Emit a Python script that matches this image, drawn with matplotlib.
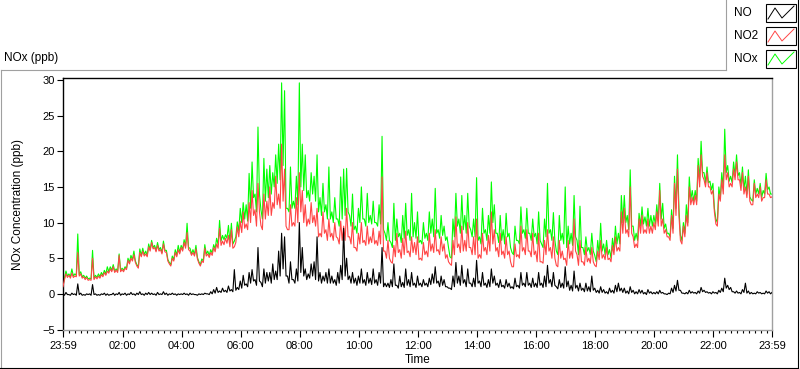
import matplotlib
matplotlib.use("Agg")
import matplotlib.pyplot as plt
import matplotlib.dates as mdates
from matplotlib.lines import Line2D
from matplotlib.patches import Rectangle
import numpy as np
import pandas as pd

# Values, 23:59 -> 23:59.
# *_HI: local peaks every 6 min (t = 0, 6, 12 ...);  *_LO: the dips between them (t = 3, 9, ...)
NO2_HI = [1.0, 2.8, 2.6, 2.9, 2.5, 5.8, 2.8, 2.4, 2.3, 2.0,
          5.0, 2.4, 2.5, 2.7, 3.0, 3.2, 3.5, 3.8, 3.3, 5.4,
          3.4, 3.6, 4.7, 5.0, 5.5, 3.9, 5.8, 6.0, 5.6, 6.6,
          7.2, 6.5, 6.8, 6.2, 7.0, 5.8, 4.2, 5.0, 5.8, 6.2,
          6.5, 7.2, 8.6, 6.0, 5.8, 6.3, 4.3, 4.6, 6.4, 5.6,
          5.8, 6.5, 7.0, 9.2, 7.4, 7.8, 8.2, 9.0, 6.6, 9.4,
          10.2, 11.5, 9.8, 12.8, 14.5, 11.8, 15.5, 9.6, 14.0, 13.0,
          15.0, 12.8, 16.5, 14.0, 21.0, 17.5, 9.0, 12.5, 10.0, 13.5,
          17.0, 14.5, 12.5, 10.5, 12.8, 11.0, 12.0, 8.5, 11.5, 9.0,
          10.5, 8.5, 10.0, 7.8, 10.2, 9.5, 12.0, 8.0, 10.0, 6.5,
          8.5, 10.0, 7.5, 9.5, 8.0, 9.2, 7.5, 8.8, 16.4, 6.0,
          7.5, 4.5, 6.8, 8.5, 6.2, 7.8, 8.8, 6.0, 8.0, 7.2,
          8.0, 5.0, 7.2, 6.0, 8.5, 7.0, 9.0, 6.2, 8.0, 7.0,
          5.5, 4.2, 7.5, 10.8, 7.0, 9.5, 7.5, 10.0, 6.5, 8.0,
          10.5, 5.5, 8.5, 6.5, 8.2, 11.5, 9.0, 6.5, 8.5, 6.0,
          8.0, 6.0, 3.8, 7.0, 5.5, 9.5, 6.5, 9.0, 6.0, 8.5,
          6.0, 8.5, 4.5, 7.5, 9.0, 6.5, 8.0, 4.0, 7.5, 6.0,
          5.0, 7.5, 6.0, 10.5, 5.5, 7.5, 4.5, 6.5, 5.0, 6.5,
          4.0, 6.0, 7.5, 5.5, 6.5, 5.0, 6.8, 8.0, 6.5, 11.5,
          12.0, 9.0, 15.0, 8.0, 7.0, 10.5, 11.0, 9.0, 10.5, 9.5,
          10.0, 11.5, 14.5, 10.5, 9.0, 8.0, 11.0, 15.5, 17.5, 7.5,
          9.5, 11.0, 15.0, 13.5, 13.8, 18.0, 19.5, 16.0, 17.0, 15.0,
          14.5, 9.8, 14.0, 16.0, 19.5, 17.0, 15.5, 17.5, 18.5, 16.0,
          17.0, 15.0, 16.5, 12.5, 15.5, 14.0, 15.0, 13.5, 16.0, 14.0, 13.6]

NO2_LO = [2.0, 2.3, 2.2, 2.3, 2.4, 2.5, 2.2, 2.0, 1.9, 1.9,
          2.0, 2.1, 2.2, 2.4, 2.6, 2.9, 3.1, 3.0, 3.0, 3.1,
          3.1, 3.4, 4.2, 4.6, 4.4, 3.6, 5.2, 5.3, 5.2, 6.0,
          6.3, 5.9, 6.0, 5.6, 5.9, 4.6, 3.9, 4.6, 5.2, 5.6,
          6.0, 6.4, 6.2, 5.4, 5.3, 4.9, 3.9, 4.4, 5.3, 5.1,
          5.4, 5.9, 6.4, 6.8, 6.9, 7.1, 6.6, 6.4, 7.2, 8.0,
          8.6, 9.2, 9.0, 10.0, 11.0, 9.5, 11.5, 9.0, 10.5, 11.0,
          11.0, 12.0, 12.5, 12.0, 13.0, 9.5, 9.0, 9.5, 9.5, 10.0,
          11.5, 10.0, 9.5, 9.8, 10.0, 9.5, 8.0, 8.0, 8.5, 7.5,
          8.0, 7.5, 8.0, 7.0, 7.5, 7.5, 8.0, 7.0, 6.5, 6.0,
          7.0, 7.2, 6.8, 7.0, 7.2, 7.0, 6.8, 7.0, 6.0, 5.0,
          5.0, 4.3, 5.2, 5.8, 5.0, 5.5, 5.8, 5.2, 5.8, 5.5,
          4.8, 4.7, 5.5, 5.2, 6.0, 5.8, 6.0, 5.5, 6.0, 5.0,
          4.5, 4.0, 5.5, 6.5, 5.8, 6.0, 6.0, 6.5, 5.5, 5.5,
          5.0, 5.0, 6.0, 5.5, 6.0, 7.0, 6.0, 5.2, 5.5, 5.0,
          5.5, 4.5, 3.8, 5.2, 5.0, 6.0, 5.5, 6.0, 5.2, 5.5,
          4.5, 4.5, 4.3, 5.5, 6.0, 5.0, 5.0, 3.8, 5.0, 4.8,
          4.0, 5.0, 5.0, 6.0, 4.0, 4.5, 4.0, 4.5, 4.3, 4.5,
          3.8, 4.8, 5.0, 4.8, 4.8, 4.5, 5.5, 6.0, 6.0, 8.5,
          8.5, 8.0, 8.5, 6.5, 6.5, 8.5, 8.5, 8.5, 8.5, 8.5,
          9.0, 9.5, 9.5, 8.5, 8.0, 7.5, 8.5, 11.0, 11.0, 7.0,
          8.0, 9.5, 12.5, 12.5, 12.5, 15.0, 16.5, 15.0, 15.0, 14.0,
          11.5, 9.5, 13.0, 14.0, 16.0, 15.0, 15.0, 16.0, 16.0, 14.5,
          14.0, 13.5, 13.0, 12.5, 13.5, 13.5, 13.0, 13.5, 14.0, 13.5]

NOX_HI = [1.2, 3.2, 2.8, 3.5, 2.8, 8.4, 3.1, 2.6, 2.5, 2.2,
          6.1, 2.6, 2.8, 3.0, 3.3, 3.8, 3.8, 4.1, 3.5, 5.6,
          3.6, 3.8, 5.0, 5.4, 6.0, 4.1, 6.3, 6.4, 6.0, 7.0,
          7.5, 6.8, 7.2, 6.5, 7.4, 6.1, 4.4, 5.3, 6.2, 6.8,
          6.8, 7.6, 9.9, 6.4, 6.2, 6.8, 4.5, 4.9, 6.9, 6.0,
          6.2, 6.9, 7.8, 10.3, 8.2, 8.3, 9.6, 9.9, 7.4, 10.1,
          12.0, 12.8, 12.5, 16.9, 18.5, 14.0, 23.4, 11.8, 19.0, 17.5,
          18.0, 17.0, 19.5, 21.0, 29.6, 28.5, 12.0, 17.8, 13.0, 16.5,
          29.6, 21.0, 19.5, 14.5, 17.0, 16.5, 19.5, 13.5, 15.5, 12.5,
          17.8, 11.5, 13.5, 10.5, 16.4, 17.5, 17.6, 11.0, 14.0, 9.5,
          12.0, 15.0, 10.5, 14.1, 11.0, 13.0, 10.0, 12.5, 22.1, 8.5,
          10.0, 7.2, 12.7, 10.5, 8.5, 11.0, 12.7, 9.0, 14.1, 10.0,
          11.5, 7.5, 10.0, 8.5, 11.5, 10.5, 14.8, 9.0, 11.0, 9.5,
          8.0, 5.2, 10.5, 14.1, 10.5, 13.8, 11.0, 14.1, 9.0, 10.5,
          16.3, 8.0, 12.0, 9.0, 11.0, 15.7, 12.5, 8.5, 11.0, 9.0,
          11.3, 8.5, 5.8, 9.5, 7.5, 12.2, 9.0, 12.0, 8.5, 10.5,
          8.5, 11.5, 7.0, 10.5, 15.5, 9.0, 11.4, 6.0, 11.0, 8.5,
          15.0, 9.5, 8.5, 13.8, 7.5, 12.3, 6.5, 8.0, 6.5, 8.5,
          5.4, 7.5, 9.9, 7.0, 7.5, 6.2, 7.8, 9.5, 8.5, 13.8,
          13.8, 11.0, 17.4, 9.5, 8.5, 11.3, 12.2, 10.8, 12.0, 11.0,
          11.0, 12.5, 15.5, 12.7, 9.8, 8.5, 11.8, 16.5, 19.5, 8.2,
          10.0, 12.5, 16.4, 14.5, 14.5, 19.0, 21.4, 17.0, 17.8, 15.8,
          15.5, 10.5, 15.0, 17.0, 23.1, 18.0, 16.5, 18.5, 19.5, 17.0,
          17.8, 16.5, 17.4, 13.2, 16.0, 14.8, 15.5, 14.5, 16.9, 15.0, 14.0]

NOX_LO = [2.2, 2.5, 2.4, 2.5, 2.6, 2.7, 2.4, 2.2, 2.1, 2.1,
          2.2, 2.3, 2.4, 2.6, 2.8, 3.1, 3.3, 3.2, 3.2, 3.3,
          3.3, 3.6, 4.4, 4.8, 4.6, 3.8, 5.4, 5.5, 5.4, 6.2,
          6.5, 6.1, 6.2, 5.8, 6.1, 4.8, 4.1, 4.8, 5.4, 5.8,
          6.2, 6.7, 6.5, 5.6, 5.5, 5.1, 4.1, 4.6, 5.6, 5.4,
          5.7, 6.3, 6.9, 7.4, 7.6, 7.8, 7.3, 7.0, 8.0, 8.8,
          10.0, 10.5, 10.2, 12.0, 13.5, 11.5, 14.0, 10.5, 13.0, 13.5,
          14.0, 15.0, 15.5, 16.0, 18.0, 12.0, 11.5, 12.0, 12.0, 12.5,
          15.0, 14.5, 13.5, 13.0, 14.0, 13.0, 11.5, 11.0, 11.5, 10.5,
          10.5, 10.0, 10.5, 9.5, 10.5, 11.0, 11.5, 9.5, 9.0, 8.5,
          10.0, 10.5, 9.5, 10.0, 9.8, 10.0, 9.5, 9.8, 9.0, 7.5,
          7.5, 6.5, 7.5, 8.0, 7.2, 7.8, 8.2, 7.5, 8.0, 7.8,
          7.2, 7.0, 7.8, 7.5, 8.5, 8.0, 8.5, 7.8, 8.2, 7.5,
          6.5, 5.0, 8.0, 9.5, 8.5, 9.0, 8.5, 9.5, 8.0, 8.0,
          7.5, 7.0, 8.5, 7.5, 8.5, 10.0, 8.5, 7.2, 7.5, 7.0,
          8.0, 6.5, 5.5, 7.5, 7.0, 8.5, 7.8, 8.5, 7.5, 8.0,
          7.0, 7.5, 6.5, 8.0, 8.5, 7.5, 7.5, 5.5, 7.5, 7.0,
          6.5, 7.0, 6.8, 8.0, 5.5, 6.5, 5.5, 6.0, 5.5, 6.0,
          4.5, 5.5, 6.0, 5.5, 5.5, 5.0, 6.2, 7.0, 7.0, 10.0,
          10.0, 9.0, 9.5, 7.5, 7.5, 9.5, 9.8, 9.5, 9.5, 9.5,
          9.8, 10.2, 10.5, 9.2, 8.5, 8.0, 9.2, 12.0, 12.0, 7.5,
          8.5, 10.0, 13.2, 13.0, 13.0, 15.8, 17.0, 15.6, 15.6, 14.6,
          12.0, 10.0, 13.5, 14.8, 17.0, 15.8, 15.6, 16.6, 16.6, 15.2,
          14.6, 14.0, 13.6, 13.0, 14.0, 14.0, 13.5, 14.0, 14.6, 14.0]

NO_HI = [0.0, 0.2, -0.1, 0.1, 0.0, 1.4, 0.1, -0.1, 0.0, 0.0,
         1.3, 0.0, -0.1, 0.0, 0.1, 0.0, -0.1, 0.1, 0.0, 0.2,
         0.0, 0.1, 0.0, 0.2, 0.0, 0.1, 0.3, 0.0, 0.1, 0.2,
         0.1, 0.0, 0.2, 0.0, 0.3, 0.1, 0.0, 0.1, 0.0, 0.0,
         0.0, 0.1, 0.0, 0.1, 0.0, -0.1, 0.0, 0.0, 0.1, 0.0,
         0.3, 0.6, 0.9, 0.4, 0.8, 0.5, 1.1, 0.6, 3.4, 0.9,
         1.8, 2.6, 1.4, 3.0, 3.4, 2.0, 6.5, 1.6, 3.5, 3.0,
         3.0, 4.2, 3.2, 6.0, 8.5, 8.0, 2.5, 4.5, 2.0, 3.5,
         10.0, 6.5, 3.5, 2.8, 4.2, 4.5, 8.0, 3.0, 2.5, 3.0,
         3.5, 2.5, 2.0, 3.0, 4.0, 9.2, 5.0, 2.5, 3.0, 2.2,
         2.5, 3.5, 2.0, 3.0, 2.2, 3.5, 2.0, 3.0, 6.5, 1.5,
         1.5, 2.0, 4.2, 1.2, 2.5, 1.6, 3.5, 2.0, 3.0, 1.5,
         2.5, 1.5, 2.0, 1.5, 2.2, 2.8, 3.8, 1.8, 2.5, 2.0,
         1.0, 0.8, 2.5, 4.4, 2.5, 4.0, 2.0, 3.5, 1.5, 2.2,
         4.7, 1.8, 3.0, 1.5, 2.0, 3.5, 2.5, 1.5, 2.0, 1.2,
         2.0, 1.5, 1.0, 2.2, 1.2, 3.0, 1.5, 3.0, 1.5, 2.2,
         1.5, 3.0, 1.5, 2.5, 4.0, 2.0, 3.0, 1.0, 2.0, 1.5,
         3.8, 1.8, 1.2, 3.2, 1.2, 1.5, 0.8, 1.5, 1.0, 2.5,
         0.8, 0.5, 1.0, 0.6, 0.3, 0.8, 0.5, 1.2, 1.5, 0.8,
         0.8, 0.4, 1.0, 0.5, 0.3, 0.6, 0.5, 0.2, 0.6, 0.3,
         0.2, 0.3, 0.5, 0.2, 0.0, 0.1, 0.8, 1.2, 1.9, 0.5,
         0.1, 0.2, 0.5, 0.3, 0.2, 0.4, 0.9, 0.5, 0.3, 0.2,
         0.3, 0.2, 0.5, 0.8, 2.2, 1.2, 0.9, 0.3, 0.4, 0.2,
         0.6, 1.5, 0.4, 0.2, 0.1, 0.3, 0.2, 0.1, 0.4, 0.3, 0.2]

NO_LO = [-0.2, -0.1, -0.2, -0.1, -0.2, -0.1, -0.2, -0.2, -0.1, -0.2,
         -0.1, -0.2, -0.2, -0.1, -0.2, -0.2, -0.1, -0.2, -0.1, -0.2,
         -0.1, -0.2, -0.1, -0.1, -0.2, -0.1, -0.1, -0.2, -0.1, -0.1,
         -0.1, -0.2, -0.1, -0.1, -0.1, -0.2, -0.1, -0.1, -0.2, -0.1,
         -0.1, -0.1, -0.2, -0.1, -0.1, -0.2, -0.1, -0.1, 0.0, -0.1,
         0.0, 0.1, 0.2, 0.2, 0.3, 0.2, 0.4, 0.3, 0.5, 0.6,
         0.8, 1.2, 1.0, 1.5, 1.8, 1.2, 1.8, 1.0, 1.5, 1.8,
         1.5, 2.0, 2.0, 2.5, 3.5, 2.5, 1.5, 2.0, 1.5, 1.8,
         3.0, 2.5, 2.0, 2.2, 2.5, 2.0, 1.8, 1.5, 1.8, 1.5,
         1.5, 1.5, 1.2, 1.5, 2.0, 2.5, 2.0, 1.5, 1.5, 1.2,
         1.5, 1.5, 1.2, 1.5, 1.3, 1.5, 1.2, 1.5, 1.0, 1.0,
         0.9, 1.0, 1.2, 0.8, 1.0, 0.9, 1.2, 1.0, 1.2, 0.9,
         1.2, 1.0, 1.2, 1.0, 1.3, 1.5, 1.5, 1.0, 1.2, 1.0,
         0.8, 0.6, 1.0, 1.5, 1.2, 1.5, 1.0, 1.5, 1.0, 1.0,
         1.5, 1.0, 1.2, 0.9, 1.0, 1.5, 1.2, 0.9, 1.0, 0.8,
         1.0, 0.8, 0.7, 1.0, 0.8, 1.2, 1.0, 1.2, 0.9, 1.0,
         0.9, 1.2, 0.9, 1.0, 1.5, 1.0, 1.2, 0.7, 0.9, 0.8,
         1.0, 0.5, 0.4, 0.8, 0.4, 0.5, 0.3, 0.4, 0.3, 0.5,
         0.2, 0.1, 0.2, 0.1, 0.0, 0.2, 0.1, 0.3, 0.4, 0.2,
         0.1, 0.0, 0.2, 0.0, 0.0, 0.1, 0.0, -0.1, 0.1, 0.0,
         0.0, 0.0, 0.1, 0.0, -0.1, 0.0, 0.2, 0.4, 0.5, 0.1,
         0.0, 0.0, 0.1, 0.1, 0.0, 0.1, 0.3, 0.2, 0.1, 0.0,
         0.1, 0.0, 0.2, 0.3, 0.8, 0.6, 0.3, 0.1, 0.1, 0.0,
         0.2, 0.1, 0.0, 0.0, 0.0, 0.1, 0.0, 0.0, 0.1, 0.0]

SERIES = ["NO", "NO2", "NOx"]
COLORS = {"NO": "black", "NO2": "#ff4545", "NOx": "#00ff00"}

START = "2000-01-01 23:59"
END = "2000-01-02 23:59"

W, H = 800, 369
FONT = "Liberation Sans"


def merge(hi, lo):
    # peaks on even 3-min slots, dips on odd ones
    out = np.empty(len(hi) + len(lo))
    out[0::2] = hi
    out[1::2] = lo
    return out


no2 = merge(NO2_HI, NO2_LO)
nox = merge(NOX_HI, NOX_LO)
no = merge(NO_HI, NO_LO)
times = pd.date_range(START, periods=len(no2), freq="3min")

plt.rcParams["font.family"] = FONT
fig = plt.figure(figsize=(W / 100, H / 100), dpi=100)

# plot area in pixels: x 63..772, y 78..330
ax = fig.add_axes([63 / W, 1 - 330 / H, (772 - 63) / W, (330 - 78) / H])
ax.plot(times, nox, color=COLORS["NOx"], lw=0.8, zorder=2)
ax.plot(times, no2, color=COLORS["NO2"], lw=0.8, zorder=3)
ax.plot(times, no, color=COLORS["NO"], lw=0.8, zorder=4)

ax.set_xlim(pd.Timestamp(START), pd.Timestamp(END))
ax.set_ylim(-5.07, 30.28)
ax.set_yticks(range(-5, 31, 5))

major = ([pd.Timestamp(START)]
         + list(pd.date_range("2000-01-02 02:00", "2000-01-02 22:00", freq="2h"))
         + [pd.Timestamp(END)])
ax.set_xticks(major)
ax.xaxis.set_major_formatter(mdates.DateFormatter("%H:%M"))
ax.xaxis.set_minor_locator(mdates.MinuteLocator(byminute=range(0, 60, 12)))

ax.tick_params(axis="both", labelsize=8, colors="black", direction="out")
ax.tick_params(axis="y", length=4, width=0.8, pad=2)
ax.tick_params(axis="x", which="major", length=5, width=0.8, pad=3)
ax.tick_params(axis="x", which="minor", length=2.5, width=0.8)

for side in ("top", "left"):
    ax.spines[side].set_color("black")
    ax.spines[side].set_linewidth(1.0)
for side in ("bottom", "right"):
    ax.spines[side].set_color("#a0a0a0")
    ax.spines[side].set_linewidth(1.0)

ax.set_xlabel("Time", fontsize=8.5, labelpad=2)
ax.set_ylabel("NOx Concentration (ppb)", fontsize=8.5, labelpad=13)

# ---- outer frame, title and legend drawn in pixel space ----
ov = fig.add_axes([0, 0, 1, 1], zorder=5)
ov.set_xlim(0, W)
ov.set_ylim(H, 0)
ov.axis("off")

ov.plot([0.5, 726], [70, 70], color="#a0a0a0", lw=0.8)
ov.plot([0.5, 0.5], [70, H], color="#a0a0a0", lw=0.8)
ov.plot([0, 798], [367.5, 367.5], color="black", lw=0.8)
ov.plot([797.5, 797.5], [0, 368], color="black", lw=0.8)
ov.plot([726, 726], [0, 70], color="#a0a0a0", lw=0.8)

ov.text(4, 58, "NOx (ppb)", fontsize=8.5, va="center", ha="left")

for k, name in enumerate(SERIES):
    yc = 13 + k * 23
    ov.text(734, yc, name, fontsize=8.5, va="center", ha="left")
    ov.add_patch(Rectangle((766, yc - 9), 30, 18, fill=False, ec="black", lw=0.8))
    ov.add_line(Line2D([768, 775, 782, 794], [yc + 6, yc - 5, yc + 5, yc - 7],
                       color=COLORS[name], lw=0.7))

fig.savefig("out.png", dpi=100)
